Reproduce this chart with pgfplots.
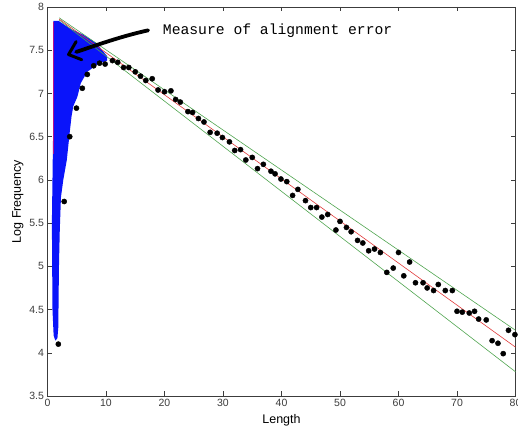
\documentclass[border=0pt]{standalone}
\usepackage{pgfplots}
\pgfplotsset{compat=1.18}
\usepackage{fontspec}
\setmainfont{Liberation Sans}
\newfontfamily\courier{Liberation Mono}

\definecolor{axgray}{RGB}{60,60,60}
\definecolor{fitred}{RGB}{225,60,60}
\definecolor{bandgreen}{RGB}{80,165,80}
\definecolor{errblue}{RGB}{10,20,250}

\begin{document}
\begin{tikzpicture}
\begin{axis}[
  scale only axis, width=468pt, height=389pt,
  xmin=0, xmax=80, ymin=3.5, ymax=8,
  xtick={0,10,...,80}, ytick={3.5,4,...,8},
  tick pos=both, tick align=inside, major tick length=4.5pt,
  axis line style={axgray}, every tick/.style={axgray},
  tick label style={font=\fontsize{10.5}{12}\selectfont, text=axgray},
  /pgf/number format/assume math mode=true,
  xlabel={Length}, ylabel={Log Frequency},
  label style={font=\fontsize{12.5}{14}\selectfont},
  xlabel style={yshift=-1pt},
  ylabel style={yshift=-1pt},
]
% alignment error region
\addplot[fill=errblue, draw=none] coordinates {
(1.0,7.84) (1.9,7.84) (3.85,7.75) (6.1,7.68) (8.4,7.58) (10.2,7.43)
(10.2,7.38) (9.0,7.35) (8.4,7.33) (6.8,7.25) (5.7,7.12) (5.1,6.96)
(4.4,6.85) (4.1,6.73) (3.8,6.55) (3.3,6.23) (2.7,6.0) (2.3,5.8)
(2.1,5.42) (1.97,5.04) (1.9,4.65) (1.85,4.3) (1.7,4.17) (1.35,4.14)
(1.05,4.2) (0.85,4.5) (0.8,5.0) (0.75,5.5) (0.85,6.0) (0.95,6.5) (1.0,7.0)
} --cycle;
\addplot[magenta!70!blue, line width=0.8pt] coordinates {(0.95,7.83) (0.95,6.3)};

% fit and band
\addplot[bandgreen, line width=0.6pt] coordinates {(2,7.875) (80,4.26)};
\addplot[bandgreen, line width=0.6pt] coordinates {(2,7.85) (80,3.78)};
\addplot[fitred, line width=0.6pt] coordinates {(2,7.86) (80,4.065)};

% measured points
\addplot[only marks, mark=*, mark size=2.6pt, black] coordinates {
(1.85,4.10) (2.85,5.75) (3.8,6.50) (4.95,6.83) (5.95,7.06) (6.8,7.22)
(7.9,7.32) (8.9,7.35) (9.85,7.34) (11.1,7.38) (12.0,7.36) (13.0,7.30)
(13.9,7.30) (15.0,7.25) (15.9,7.20) (16.8,7.15) (17.9,7.17) (18.9,7.04)
(20.0,7.02) (21.1,7.03) (21.9,6.93) (22.7,6.90) (24.0,6.79) (24.8,6.78)
(25.8,6.71) (26.75,6.67) (27.8,6.55) (29.0,6.54) (29.9,6.49) (31.1,6.44)
(32.0,6.34) (33.0,6.35) (33.9,6.23) (35.0,6.26) (35.9,6.13) (36.9,6.18)
(38.2,6.10) (38.9,6.07) (39.9,6.01) (40.9,5.98) (41.9,5.82) (42.8,5.89)
(44.1,5.76) (45.0,5.68) (46.0,5.68) (46.9,5.57) (47.9,5.60) (49.3,5.42)
(50.0,5.52) (51.1,5.45) (51.9,5.40) (53.0,5.30) (53.9,5.27) (54.9,5.18)
(55.9,5.20) (56.9,5.16) (58.0,4.93) (59.1,4.98) (60.0,5.16) (60.9,4.89)
(61.9,5.05) (62.9,4.81) (64.2,4.81) (64.9,4.75) (66.0,4.72) (66.8,4.79)
(68.0,4.72) (69.2,4.72) (70.0,4.48) (70.9,4.47) (72.1,4.46) (73.0,4.48)
(73.7,4.39) (75.0,4.38) (76.0,4.14) (77.0,4.11) (77.9,3.99) (78.8,4.26)
(79.9,4.21)
};

% annotation
\draw[line width=3.8pt, line cap=round, line join=round]
  (axis cs:17.2,7.73) .. controls (axis cs:12.5,7.66) and (axis cs:8.5,7.56) .. (axis cs:4.9,7.48);
\draw[line width=3pt, line cap=round, line join=round]
  (axis cs:4.9,7.60) -- (axis cs:3.6,7.45) -- (axis cs:5.85,7.39);
\node[anchor=base west, inner sep=0pt, font=\courier\fontsize{14.7}{16}\selectfont]
  at (axis cs:19.7,7.684) {Measure of alignment error};

\coordinate (bl) at (rel axis cs:0,0);
\end{axis}
\pgfresetboundingbox
\path[use as bounding box] (bl) ++(-47.5pt,-34pt) rectangle ++(518pt,430pt);
\end{tikzpicture}
\end{document}
